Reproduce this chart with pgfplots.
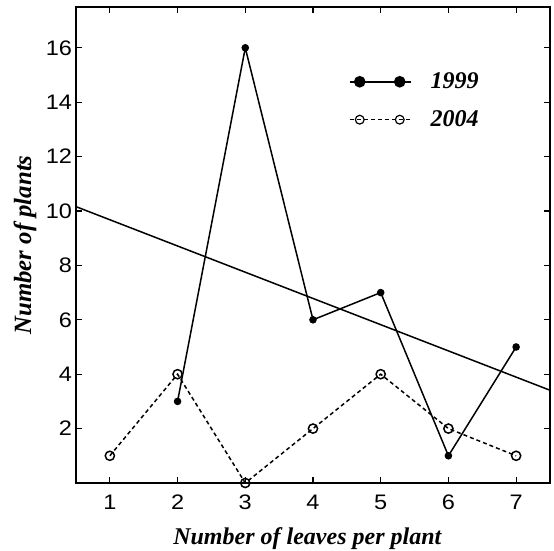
\documentclass[border=0pt]{standalone}
\usepackage{pgfplots}
\pgfplotsset{compat=1.18}
\usepackage{fontspec}
\setmainfont{Liberation Serif}
\newfontfamily\sansf[FakeStretch=1.12]{Liberation Sans}
\begin{document}
\begin{tikzpicture}
\useasboundingbox (-38pt,-34pt) rectangle (239pt,241.5pt);
\begin{axis}[
  at={(0pt,0pt)}, anchor=south west,
  scale only axis, width=237pt, height=238pt,
  xmin=0.5, xmax=7.5, ymin=0, ymax=17.5,
  xtick={1,2,3,4,5,6,7}, ytick={2,4,6,8,10,12,14,16},
  axis line style={line width=1pt},
  major tick length=2.8pt,
  tick style={line width=0.6pt, black},
  /pgf/number format/assume math mode=true,
  ticklabel style={font=\sansf\fontsize{10.5}{12}\selectfont},
  yticklabel style={xshift=1.5pt},
  xticklabel style={yshift=-2.5pt},
  xlabel={Number of leaves per plant},
  ylabel={Number of plants},
  every axis x label/.style={at={(axis description cs:0.488,0)}, anchor=base, yshift=-31pt, font=\fontsize{12}{14}\selectfont\bfseries\itshape},
  every axis y label/.style={at={(axis description cs:0,0.5)}, xshift=-25.5pt, rotate=90, anchor=center, font=\fontsize{12.4}{14}\selectfont\bfseries\itshape},
  legend image code/.code={\draw[#1] plot coordinates {(0pt,0pt) (5pt,0pt) (25pt,0pt) (30.5pt,0pt)};},
  legend style={draw=none, fill=none, at={(axis description cs:0.575,0.872)}, anchor=north west,
    font=\fontsize{12}{14}\selectfont\bfseries\itshape, row sep=5.5pt, inner sep=0pt,
    /tikz/every odd column/.append style={column sep=7.5pt}},
  legend cell align=left,
]
\addplot[black, line width=0.75pt, mark=*, mark size=1.5pt, forget plot]
  coordinates {(2,3) (3,16) (4,6) (5,7) (6,1) (7,5)};
\addplot[black, line width=0.75pt, dash pattern=on 2pt off 1.5pt, mark=o, mark size=2.3pt, mark options={solid}, forget plot]
  coordinates {(1,1) (2,4) (3,0) (4,2) (5,4) (6,2) (7,1)};
\addplot[black, line width=0.75pt, forget plot]
  coordinates {(0.5,10.16) (7.5,3.41)};
\addlegendimage{black, line width=0.8pt, mark=*, mark size=2.5pt, mark indices={2,3}}
\addlegendentry{1999}
\addlegendimage{black, line width=0.6pt, dash pattern=on 2pt off 1.5pt, mark=o, mark size=2.2pt, mark options={solid}, mark indices={2,3}}
\addlegendentry{2004}
\end{axis}
\end{tikzpicture}
\end{document}
